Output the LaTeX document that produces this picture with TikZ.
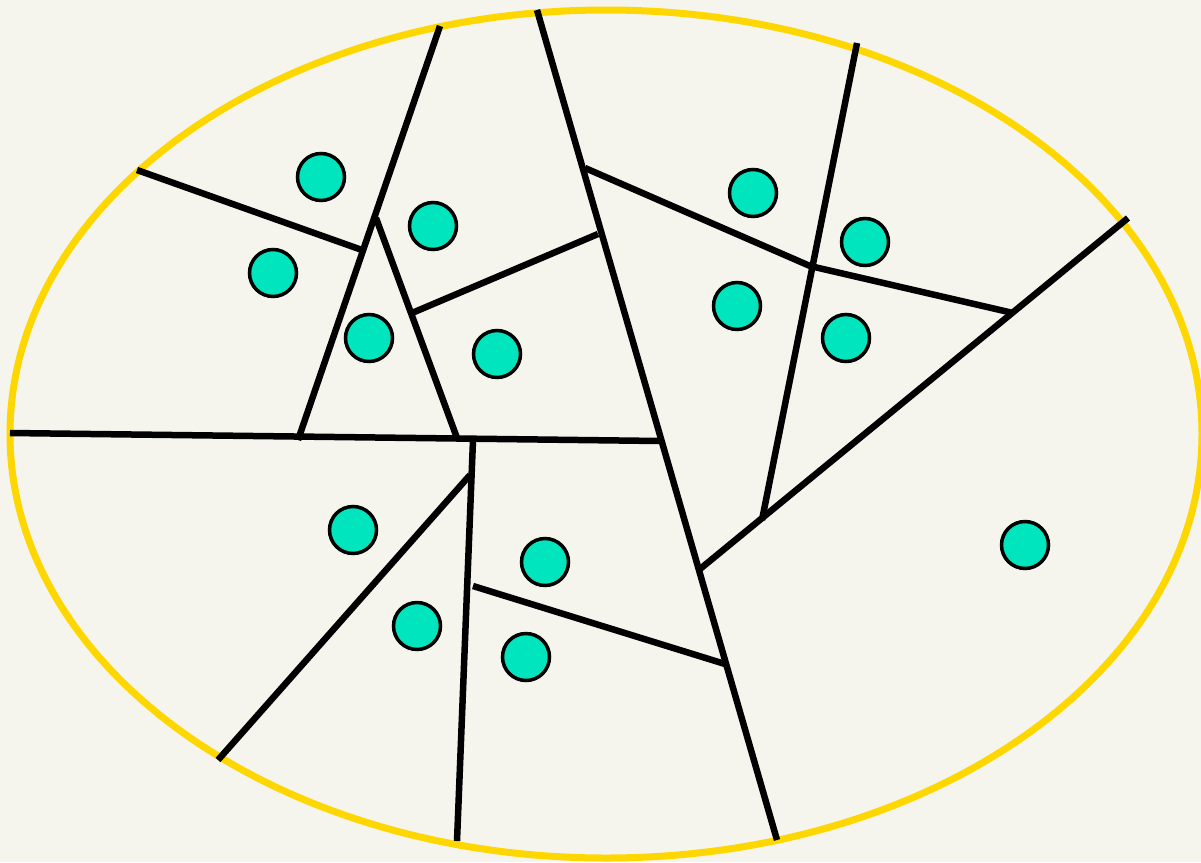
\documentclass[tikz,border=0pt]{standalone}
\begin{document}
\begin{tikzpicture}[x=1pt,y=-1pt,
  edge/.style={draw=black,line width=6.5pt},
  dot/.style={circle,draw=black,line width=3.5pt,fill=teal1,minimum size=47pt,inner sep=0pt},
  rim/.style={draw=gold1,line width=7pt}]
\definecolor{bg}{HTML}{F5F5EE}
\definecolor{teal1}{HTML}{00E5BE}
\definecolor{gold1}{HTML}{FFD700}
\useasboundingbox (0,0) rectangle (1201,862);
\fill[bg] (0,0) rectangle (1201,862);
\draw[rim] (606,434) ellipse [x radius=596pt, y radius=424pt];
% coordinates
\coordinate (a1) at (440,26);   \coordinate (a2) at (298,440);
\coordinate (b1) at (137,170);  \coordinate (b2) at (362,250);
\coordinate (c1) at (376,218);  \coordinate (c2) at (457,438);
\coordinate (d1) at (412,313);  \coordinate (d2) at (598,234);
\coordinate (e1) at (537,10);   \coordinate (e2) at (777,840);
\coordinate (f1) at (585,168);  \coordinate (f2) at (810,266);  \coordinate (f3) at (1013,313);
\coordinate (g1) at (857,43);   \coordinate (g2) at (762,520);
\coordinate (h1) at (1128,218); \coordinate (h2) at (700,569);
\coordinate (i1) at (10,433);   \coordinate (i2) at (660,441);
\coordinate (j1) at (473,440);  \coordinate (j2) at (457,841);
\coordinate (k1) at (470,475);  \coordinate (k2) at (218,760);
\coordinate (l1) at (473,586);  \coordinate (l2) at (725,664);
\draw[edge] (a1) -- (a2);
\draw[edge] (b1) -- (b2);
\draw[edge] (c1) -- (c2);
\draw[edge] (d1) -- (d2);
\draw[edge] (e1) -- (e2);
\draw[edge] (f1) -- (f2) -- (f3);
\draw[edge] (g1) -- (g2);
\draw[edge] (h1) -- (h2);
\draw[edge] (i1) -- (i2);
\draw[edge] (j1) -- (j2);
\draw[edge] (k1) -- (k2);
\draw[edge] (l1) -- (l2);
% dots
\node[dot] (p1) at (321,177) {};
\node[dot] (p2) at (433,226) {};
\node[dot] (p3) at (273,273) {};
\node[dot] (p4) at (369,338) {};
\node[dot] (p5) at (497,354) {};
\node[dot] (p6) at (753,193) {};
\node[dot] (p7) at (865,242) {};
\node[dot] (p8) at (737,306) {};
\node[dot] (p9) at (846,338) {};
\node[dot] (p10) at (1025,545) {};
\node[dot] (p11) at (353,530) {};
\node[dot] (p12) at (545,562) {};
\node[dot] (p13) at (417,626) {};
\node[dot] (p14) at (526,657) {};
\end{tikzpicture}
\end{document}
